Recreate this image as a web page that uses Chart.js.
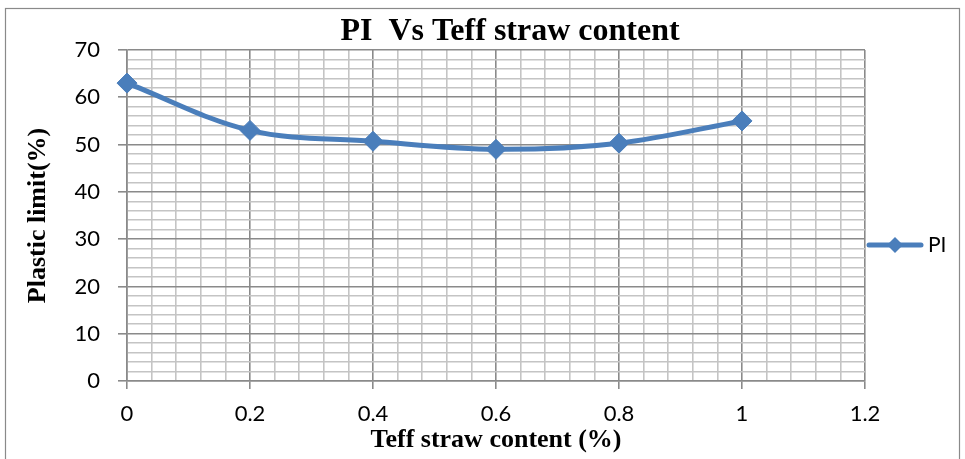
<!DOCTYPE html>
<html>
<head>
<meta charset="utf-8">
<script src="https://cdn.jsdelivr.net/npm/chart.js@4.4.0/dist/chart.umd.min.js"></script>
<style>
  html, body { margin: 0; padding: 0; background: #ffffff; overflow: hidden; }
  canvas { display: block; }
</style>
</head>
<body>
<canvas id="chart" width="965" height="459"></canvas>
<script>
// ---- data ----
const chartTitle = 'PI  Vs Teff straw content';
const seriesName = 'PI';
const xAxisTitle = 'Teff straw content (%)';
const yAxisTitle = 'Plastic limit(%)';

const strawContent = [0, 0.2, 0.4, 0.6, 0.8, 1.0];
const plasticLimit = [63, 53, 50.7, 49, 50.3, 55];

const xTickValues = [0, 0.2, 0.4, 0.6, 0.8, 1, 1.2];
const xTickLabels = ['0', '0.2', '0.4', '0.6', '0.8', '1', '1.2'];
const yTickValues = [0, 10, 20, 30, 40, 50, 60, 70];
const yTickLabels = ['0', '10', '20', '30', '40', '50', '60', '70'];

// ---- style ----
const LINE_BLUE = '#4a7ebb';
const MAJOR_GRID = '#8a8a8a';
const MINOR_GRID = '#c4c4c4';
const TICK_FONT = 'Lato';
const TICK_SIZE = 22;
const SERIF = "'Liberation Serif', 'Times New Roman', serif";
const X_MINOR_STEP = 0.04;
const Y_MINOR_STEP = 2;

function majorIndex(list, v) {
  for (let i = 0; i < list.length; i++) {
    if (Math.abs(list[i] - v) < 1e-6) return i;
  }
  return -1;
}

// legend symbol: short line with a diamond marker
const legendMark = document.createElement('canvas');
legendMark.width = 58;
legendMark.height = 22;
(function () {
  const g = legendMark.getContext('2d');
  g.strokeStyle = LINE_BLUE;
  g.lineWidth = 5;
  g.lineCap = 'round';
  g.beginPath(); g.moveTo(3, 11); g.lineTo(55, 11); g.stroke();
  g.fillStyle = LINE_BLUE;
  g.beginPath();
  g.moveTo(29, 3); g.lineTo(37, 11); g.lineTo(29, 19); g.lineTo(21, 11);
  g.closePath(); g.fill();
})();

// legend geometry: the legend column is 100px wide on the right
const LEGEND_FONT_SIZE = 21;
const LEGEND_PAD = 7.5;
const LEGEND_BOX = 45;
const measureCtx = document.createElement('canvas').getContext('2d');
measureCtx.font = LEGEND_FONT_SIZE + 'px ' + TICK_FONT;
const legendTextW = measureCtx.measureText(seriesName).width;
const legendNatural = LEGEND_PAD + LEGEND_BOX + LEGEND_FONT_SIZE / 2 + legendTextW + 10;
const padRight = Math.max(0, 100 - legendNatural);
const padLeft = 55 + padRight;
const PLOT_LEFT = 127;

// white background and outer frame
const framePlugin = {
  id: 'frame',
  beforeDraw(chart) {
    const c = chart.ctx;
    c.save();
    c.fillStyle = '#ffffff';
    c.fillRect(0, 0, chart.width, chart.height);
    c.strokeStyle = '#8a8a8a';
    c.lineWidth = 1.2;
    c.strokeRect(5.5, 8.5, chart.width - 11, chart.height + 20);
    c.restore();
  }
};

new Chart(document.getElementById('chart'), {
  type: 'line',
  data: {
    datasets: [{
      label: seriesName,
      data: strawContent.map((x, i) => ({ x: x, y: plasticLimit[i] })),
      borderColor: LINE_BLUE,
      backgroundColor: LINE_BLUE,
      borderWidth: 5,
      tension: 0.35,
      pointStyle: 'rectRot',
      pointRadius: 10,
      pointHoverRadius: 10,
      pointBackgroundColor: LINE_BLUE,
      pointBorderColor: LINE_BLUE,
      pointBorderWidth: 1,
      clip: false,
      fill: false
    }]
  },
  options: {
    responsive: false,
    animation: false,
    devicePixelRatio: 1,
    layout: { padding: { left: padLeft, right: padRight, top: 0, bottom: 0 } },
    plugins: {
      title: {
        display: true,
        text: chartTitle,
        color: '#000000',
        font: { family: SERIF, size: 32, weight: 'bold' },
        padding: { top: 13, bottom: -1.4 }
      },
      legend: {
        display: true,
        position: 'right',
        align: 'center',
        title: { display: true, text: ' ', font: { size: 20 }, padding: { top: 7, bottom: 0 } },
        labels: {
          usePointStyle: true,
          pointStyle: legendMark,
          pointStyleWidth: LEGEND_BOX,
          padding: LEGEND_PAD,
          color: '#000000',
          font: { family: TICK_FONT, size: LEGEND_FONT_SIZE }
        }
      },
      tooltip: { enabled: false }
    },
    scales: {
      x: {
        type: 'linear',
        min: xTickValues[0],
        max: xTickValues[xTickValues.length - 1],
        afterFit(scale) { scale.height = 78; },
        ticks: {
          stepSize: X_MINOR_STEP,
          autoSkip: false,
          maxTicksLimit: 1000,
          maxRotation: 0,
          minRotation: 0,
          padding: 11.5,
          color: '#000000',
          font: { family: TICK_FONT, size: TICK_SIZE },
          callback(value) {
            const i = majorIndex(xTickValues, value);
            return i >= 0 ? xTickLabels[i] : '';
          }
        },
        grid: {
          drawTicks: true,
          tickLength: 8,
          color: c => majorIndex(xTickValues, c.tick.value) >= 0 ? MAJOR_GRID : MINOR_GRID,
          lineWidth: 1.6,
          tickColor: c => majorIndex(xTickValues, c.tick.value) >= 0 ? MAJOR_GRID : 'rgba(0,0,0,0)',
          tickWidth: 1.6
        },
        border: { display: true, color: MAJOR_GRID, width: 1.6 },
        title: {
          display: true,
          text: xAxisTitle,
          color: '#000000',
          font: { family: SERIF, size: 26, weight: 'bold' },
          padding: { top: 0, bottom: 3 }
        }
      },
      y: {
        type: 'linear',
        min: yTickValues[0],
        max: yTickValues[yTickValues.length - 1],
        afterFit(scale) { scale.width = PLOT_LEFT - padLeft; },
        ticks: {
          stepSize: Y_MINOR_STEP,
          autoSkip: false,
          maxTicksLimit: 1000,
          padding: 18,
          color: '#000000',
          font: { family: TICK_FONT, size: TICK_SIZE },
          callback(value) {
            const i = majorIndex(yTickValues, value);
            return i >= 0 ? yTickLabels[i] : '';
          }
        },
        grid: {
          drawTicks: true,
          tickLength: 9,
          color: c => majorIndex(yTickValues, c.tick.value) >= 0 ? MAJOR_GRID : MINOR_GRID,
          lineWidth: 1.6,
          tickColor: c => majorIndex(yTickValues, c.tick.value) >= 0 ? MAJOR_GRID : 'rgba(0,0,0,0)',
          tickWidth: 1.6
        },
        border: { display: true, color: MAJOR_GRID, width: 1.6 },
        title: {
          display: true,
          text: yAxisTitle,
          color: '#000000',
          font: { family: SERIF, size: 26, weight: 'bold' },
          padding: { top: 38 - 15.6 - padLeft, bottom: 0 }
        }
      }
    }
  },
  plugins: [framePlugin]
});
</script>
</body>
</html>
